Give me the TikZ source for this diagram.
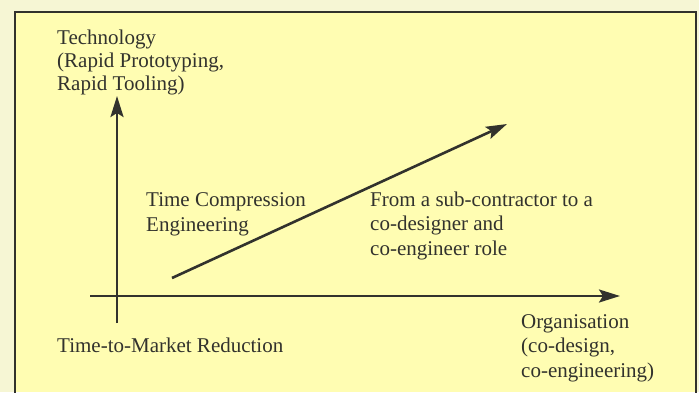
\documentclass[tikz,border=0pt]{standalone}
\usepackage{fontspec}
\setmainfont{Liberation Serif}
\usetikzlibrary{arrows.meta}
\definecolor{pagebg}{RGB}{246,246,212}
\definecolor{panelbg}{RGB}{255,253,178}
\definecolor{ink}{RGB}{50,50,45}
\begin{document}
\begin{tikzpicture}[x=1pt,y=-1pt,
  % anchor sits on the baseline of the last line of each label
  lbl/.style={anchor=base west,inner sep=0pt,align=left,text=ink,
    font=\fontsize{21}{24.5}\selectfont},
  axis/.style={draw=ink,line width=2.6pt,
    -{Stealth[length=21pt,width=13pt,inset=4pt]}}]
  % page and panel
  \fill[pagebg] (0,0) rectangle (699,392);
  \useasboundingbox (0,0) rectangle (699,392);
  \fill[panelbg] (15,12) rectangle (696,392);
  \draw[ink,line width=2pt] (15,393) -- (15,12) -- (696,12) -- (696,393);
  % axes
  \coordinate (vb) at (117,323);
  \coordinate (vt) at (117,96);
  \coordinate (hl) at (90,296);
  \coordinate (hr) at (620,296);
  \coordinate (ds) at (172,278);
  \coordinate (de) at (507,124);
  \draw[axis] (vb) -- (vt);
  \draw[axis] (hl) -- (hr);
  \draw[axis] (ds) -- (de);
  % labels
  \node[lbl,font=\fontsize{21}{23}\selectfont] (tech) at (57,90)
    {Technology\\(Rapid Prototyping,\\Rapid Tooling)};
  \node[lbl] (tce) at (146,231) {Time Compression\\Engineering};
  \node[lbl] (role) at (370,255) {From a sub-contractor to a\\co-designer and\\co-engineer role};
  \node[lbl] (ttm) at (57,352) {Time-to-Market Reduction};
  \node[lbl] (org) at (521,377) {Organisation\\(co-design,\\co-engineering)};
\end{tikzpicture}
\end{document}
